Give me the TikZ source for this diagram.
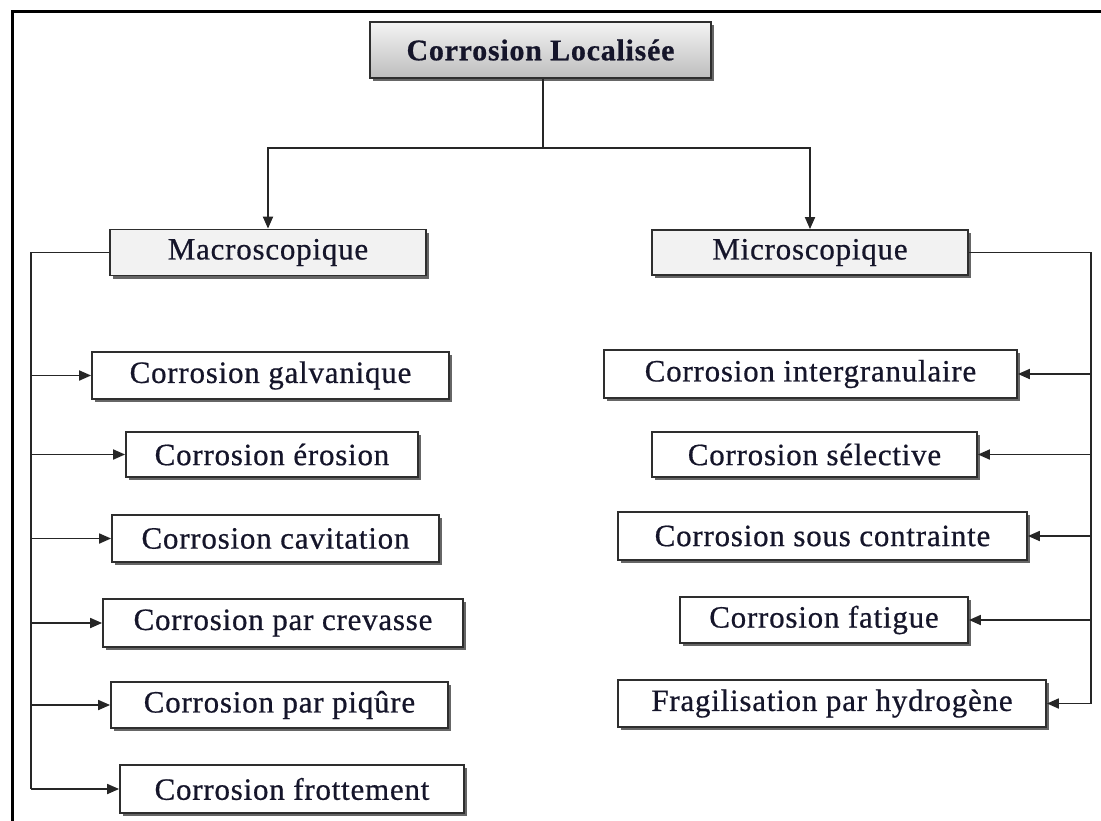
\documentclass[tikz,border=0pt]{standalone}
\usepackage{fontspec}
\setmainfont[LetterSpace=2.5,FakeBold=0.6]{Liberation Serif}
\usetikzlibrary{arrows.meta,shadows}
\definecolor{boxline}{HTML}{2E2E2E}
\definecolor{lightfill}{HTML}{F2F2F2}
\definecolor{gradtop}{HTML}{F4F4F4}
\definecolor{gradbot}{HTML}{BDBDBD}
\definecolor{txt}{HTML}{15152A}
\tikzset{
  base/.style={draw=boxline, line width=1.8pt, inner sep=0pt, font=\fontsize{31}{35}\selectfont, text=txt,
    drop shadow={shadow xshift=3pt, shadow yshift=-3pt, fill=black, opacity=0.6}},
  leaf/.style={base, fill=white},
  mid/.style={base, fill=lightfill},
  topbox/.style={base, top color=gradtop, bottom color=gradbot, font=\fontsize{30}{34}\selectfont\bfseries},
  conn/.style={line width=1.8pt, draw=black!85},
  arr/.style={conn, -{Triangle[length=12pt,width=10pt]}}
}
\begin{document}
\begin{tikzpicture}[x=1pt,y=-1pt]
\useasboundingbox (0,0) rectangle (1101,820);
\fill[white] (0,0) rectangle (1101,820);
% frame
\draw[line width=3pt, line cap=rect] (12,822) -- (12,11) -- (1103,11);

% top
\node[topbox, minimum width=341pt, minimum height=56pt] (top) at (540.5,50) {Corrosion Localisée};
\node[mid, minimum width=316pt, minimum height=46pt] (macro) at (268,252.5) {Macroscopique};
\node[mid, minimum width=316pt, minimum height=45pt] (micro) at (810,252.5) {Microscopique};

% left leaves
\node[leaf, minimum width=357pt, minimum height=47pt] (gal) at (270.5,375.5) {Corrosion galvanique};
\node[leaf, minimum width=292pt, minimum height=45pt] (ero) at (272,454.5) {Corrosion érosion};
\node[leaf, minimum width=327pt, minimum height=47pt] (cav) at (275.5,538.5) {Corrosion cavitation};
\node[leaf, minimum width=360pt, minimum height=48pt] (cre) at (283,623) {Corrosion par crevasse};
\node[leaf, minimum width=337pt, minimum height=46pt] (piq) at (279.5,705) {Corrosion par piqûre};
\node[leaf, minimum width=344pt, minimum height=48pt] (fro) at (292,789) {Corrosion frottement};

% right leaves
\node[leaf, minimum width=413pt, minimum height=48pt] (int) at (810.5,374) {Corrosion intergranulaire};
\node[leaf, minimum width=325pt, minimum height=45pt] (sel) at (814.5,454.5) {Corrosion sélective};
\node[leaf, minimum width=409pt, minimum height=48pt] (sou) at (822.5,536) {Corrosion sous contrainte};
\node[leaf, minimum width=288pt, minimum height=46pt] (fat) at (824,620) {Corrosion fatigue};
\node[leaf, minimum width=428pt, minimum height=47pt] (fra) at (832,703.5) {Fragilisation par hydrogène};

% connectors top
\coordinate (j) at (543,148);
\draw[conn] (top.south -| j) -- (j);
\draw[arr] (j) -| (macro.north);
\draw[arr] (j) -| (micro.north);

% left bus
\coordinate (lb) at (31,252.5);
\draw[conn] (macro.west) -- (lb) -- (lb |- fro.west);
\foreach \n in {gal,ero,cav,cre,piq,fro}
  \draw[arr] (lb |- \n.west) -- (\n.west);

% right bus
\coordinate (rb) at (1091,252.5);
\draw[conn] (micro.east) -- (rb) -- (rb |- fra.east);
\foreach \n in {int,sel,sou,fat,fra}
  \draw[arr] (rb |- \n.east) -- (\n.east);
\end{tikzpicture}
\end{document}
